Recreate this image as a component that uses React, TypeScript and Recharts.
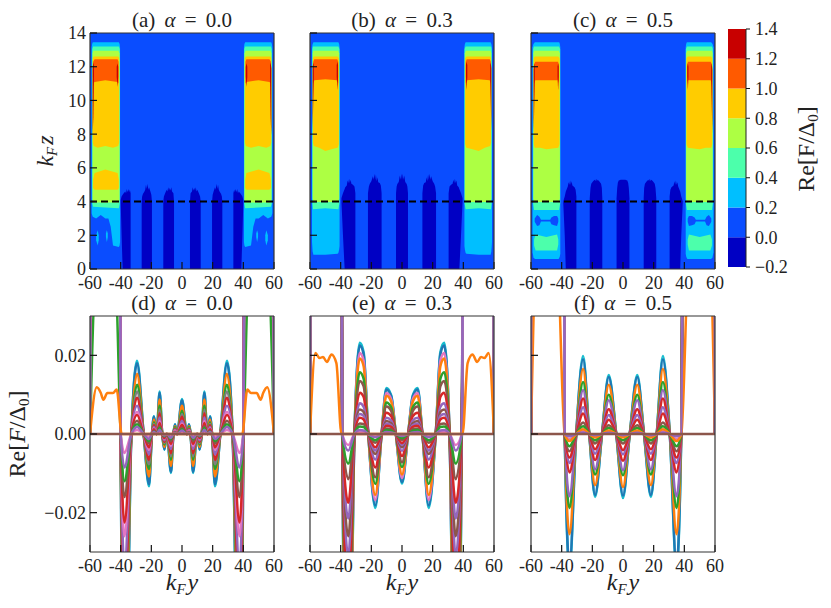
import React from 'react';
import { ComposedChart, Area, Line, XAxis, YAxis } from 'recharts';

const SERIF = '"Liberation Serif", serif';

// contourf levels, low to high
const LEVELS = [-0.2, 0, 0.2, 0.4, 0.6, 0.8, 1.0, 1.2, 1.4];
const LEVEL_COLORS = ['#0000c4', '#0a4dff', '#00bfff', '#4cffab', '#adff43', '#ffcc00', '#ff5a00', '#c80000'];
const TAB = { blue: '#1f77b4', orange: '#ff7f0e', green: '#2ca02c', red: '#d62728', purple: '#9467bd', brown: '#8c564b', pink: '#e377c2', gray: '#7f7f7f', olive: '#bcbd22', cyan: '#17becf' };

const yTicksX = [-60, -40, -20, 0, 20, 40, 60];
const zTicks = [0, 2, 4, 6, 8, 10, 12, 14];
const fTicks = [-0.02, 0, 0.02];
const barTicks = [-0.2, 0, 0.2, 0.4, 0.6, 0.8, 1.0, 1.2, 1.4];
const topTitles = ['(a) α = 0.0', '(b) α = 0.3', '(c) α = 0.5'];
const lowTitles = ['(d) α = 0.0', '(e) α = 0.3', '(f) α = 0.5'];
const cutZ = 4;

type Region = [number, number[], number[], number[]]; // level index, |y|, low z, high z

// (a) side block, read at |y| >= 40
const blockA: Region[] = [
  [2, [40.4, 40.7, 41.2, 45, 46.5, 48, 50, 53, 56, 58.2, 58.6, 58.9], [1.6, 1.4, 1.3, 1.4, 2.5, 3.0, 3.0, 3.2, 3.0, 3.1, 3.2, 3.3], [13.15, 13.35, 13.45, 13.45, 13.45, 13.45, 13.45, 13.45, 13.45, 13.45, 13.35, 13.15]],
  [2, [48.4, 49, 49.6], [1.9, 1.6, 1.9], [2.1, 2.3, 2.1]],
  [2, [54.3, 55, 56], [1.7, 1.4, 1.7], [2.0, 2.3, 2.0]],
  [3, [40.6, 41.2, 50, 58, 58.5], [3.9, 3.6, 3.65, 3.7, 3.9], [13.05, 13.2, 13.2, 13.2, 13.05]],
  [4, [40.8, 41.5, 50, 57.8, 58.3], [4.1, 3.95, 3.95, 3.95, 4.1], [12.8, 12.95, 12.95, 12.95, 12.8]],
  [5, [41, 41.6, 45, 50, 55, 57.6, 58.2], [7.5, 7.3, 7.2, 7.3, 7.2, 7.3, 7.5], [12.5, 12.6, 12.6, 12.6, 12.6, 12.6, 12.5]],
  [5, [41.2, 42, 50, 57, 58], [4.8, 4.7, 4.7, 4.7, 4.8], [5.3, 5.7, 5.9, 5.7, 5.3]],
  [6, [41.4, 42, 50, 57, 58], [11, 11.1, 11.2, 11.1, 11], [12.3, 12.45, 12.45, 12.45, 12.3]],
  [7, [57.4, 57.8, 58.3], [11.4, 9, 7.9], [12.1, 12.25, 11.9]],
  [7, [41.6, 42.1, 42.6], [11.4, 10.8, 11.4], [12.0, 12.2, 12.0]],
];

const blockB: Region[] = [
  [2, [40.7, 41, 41.5, 42, 50, 57.8, 58.3, 58.7], [1.4, 1.15, 0.95, 0.9, 0.85, 0.85, 1.05, 1.6], [13.15, 13.35, 13.45, 13.45, 13.45, 13.45, 13.35, 13.15]],
  [3, [40.8, 41.5, 50, 58, 58.4], [3.9, 3.55, 3.6, 3.55, 3.9], [13.05, 13.2, 13.2, 13.2, 13.05]],
  [4, [41, 41.7, 50, 57.8, 58.2], [4.2, 3.98, 3.98, 3.98, 4.2], [12.8, 12.95, 12.95, 12.95, 12.8]],
  [5, [41.2, 42, 46, 50, 54, 57.5, 58.1], [7.4, 7.2, 7.1, 7.0, 7.2, 7.3, 7.5], [12.5, 12.6, 12.6, 12.6, 12.6, 12.6, 12.5]],
  [6, [41.6, 42.2, 50, 57.2, 57.9], [11, 11.2, 11.25, 11.2, 11], [12.3, 12.45, 12.45, 12.45, 12.3]],
  [7, [57.5, 57.9, 58.3], [11.3, 9.8, 8.2], [12.1, 12.25, 11.9]],
  [7, [41.7, 42.1, 42.6], [11.4, 10.6, 11.4], [12.1, 12.3, 12.1]],
];

const blockC: Region[] = [
  [2, [40.9, 41.2, 41.6, 42, 50, 57.5, 58.4, 59], [0.9, 0.75, 0.65, 0.6, 0.6, 0.6, 0.7, 1.0], [13.15, 13.35, 13.45, 13.45, 13.45, 13.45, 13.35, 13.15]],
  [1, [42.2, 43, 45, 46.7, 47.5, 53.5, 54.5, 56, 57.6], [2.8, 2.55, 2.6, 2.65, 2.82, 2.82, 2.6, 2.55, 2.8], [3.0, 3.15, 3.15, 3.05, 2.92, 2.92, 3.1, 3.2, 3.0]],
  [3, [42.2, 43, 50, 57, 58], [1.45, 1.1, 1.1, 1.1, 1.4], [1.75, 2.05, 1.9, 2.05, 1.75]],
  [3, [41, 41.7, 50, 58, 58.6], [3.9, 3.5, 3.5, 3.5, 3.9], [13.05, 13.2, 13.2, 13.2, 13.05]],
  [4, [41.2, 41.9, 50, 57.9, 58.4], [4.2, 3.98, 3.98, 3.98, 4.2], [12.8, 12.95, 12.95, 12.95, 12.8]],
  [5, [41.4, 42.2, 46, 50, 54, 57.6, 58.2], [7.4, 7.2, 7.15, 7.1, 7.2, 7.2, 7.4], [12.5, 12.6, 12.6, 12.6, 12.6, 12.6, 12.5]],
  [6, [41.9, 42.4, 50, 57.2, 57.9], [11, 11.2, 11.2, 11.2, 11], [12.15, 12.3, 12.3, 12.3, 12.15]],
  [7, [57.5, 57.9, 58.3], [11.3, 9.6, 8.0], [12.0, 12.2, 11.8]],
  [7, [41.9, 42.3, 42.7], [11.4, 10.6, 11.4], [12.0, 12.2, 12.0]],
];

// dark stripes under the cut, read at y >= 0
const stripesA: Region[] = [
  [0, [5.2, 5.6, 6.5, 7, 7.5, 8, 8.5, 9, 9.5, 10, 11, 11.8, 12.2], [0, 0, 0, 0, 0, 0, 0, 0, 0, 0, 0, 0, 0], [4.0, 4.5, 4.6, 4.85, 4.65, 4.8, 4.65, 4.85, 4.6, 4.7, 4.5, 4.3, 4.0]],
  [0, [19.6, 20, 20.6, 21.5, 22, 22.5, 23, 23.5, 24, 24.5, 25.5, 26, 26.3], [0, 0, 0, 0, 0, 0, 0, 0, 0, 0, 0, 0, 0], [4.0, 4.4, 4.6, 4.85, 4.7, 5.05, 4.75, 5.0, 4.7, 4.6, 4.45, 4.3, 4.0]],
  [0, [33.5, 34, 34.5, 35, 35.5, 36, 36.5, 37, 38, 38.7, 39.4, 40], [0, 0, 0, 0, 0, 0, 0, 0, 0, 0, 2, 4], [4.5, 4.7, 4.55, 4.75, 4.55, 4.75, 4.5, 4.6, 4.5, 4.4, 4.3, 4.1]],
];
const stripesB: Region[] = [
  [0, [0, 0.5, 1, 1.5, 2, 2.5, 3, 3.5, 3.9], [0, 0, 0, 0, 0, 0, 0, 0, 0], [5.3, 5.65, 5.3, 5.55, 5.2, 5.1, 5.05, 4.9, 4.5]],
  [0, [13.3, 13.8, 14.5, 15.5, 16, 16.5, 17, 17.5, 18, 18.5, 19, 20, 21, 21.6, 22.2], [0, 0, 0, 0, 0, 0, 0, 0, 0, 0, 0, 0, 0, 0, 0], [4.5, 4.95, 5.1, 5.15, 5.45, 5.2, 5.6, 5.3, 5.65, 5.3, 5.5, 5.2, 5.05, 4.9, 4.5]],
  [0, [30.4, 31, 32, 33, 33.5, 34, 34.5, 35, 35.5, 36, 37, 37.4, 38.5, 39.5], [0, 0, 0, 0, 0, 0, 0, 0, 0, 0, 0, 0, 2, 4], [4.5, 4.9, 5.0, 5.05, 5.3, 5.1, 5.35, 5.1, 5.25, 4.95, 4.85, 4.75, 4.5, 4.2]],
];
const stripesC: Region[] = [
  [0, [0, 1.5, 2.8, 3.4, 3.8, 4.2], [0, 0, 0, 0, 0, 0], [5.3, 5.3, 5.25, 5.1, 4.8, 4.2]],
  [0, [13.5, 13.8, 14.3, 15.5, 16.5, 17, 17.5, 18, 18.5, 19.5, 20.7, 21.2, 21.7], [0, 0, 0, 0, 0, 0, 0, 0, 0, 0, 0, 0, 0], [4.2, 4.8, 5.05, 5.2, 5.3, 5.22, 5.35, 5.22, 5.3, 5.2, 5.05, 4.8, 4.2]],
  [0, [30.4, 30.9, 31.6, 33, 33.5, 34, 34.5, 35, 35.5, 36, 37.3, 38, 39], [0, 0, 0, 0, 0, 0, 0, 0, 0, 0, 0, 2, 4], [4.3, 4.7, 4.85, 4.95, 5.2, 5.0, 5.25, 5.0, 5.15, 4.9, 4.6, 4.3, 4.0]],
];
const blocks = [blockA, blockB, blockC];
const stripes = [stripesA, stripesB, stripesC];

// cuts: peak positions at y >= 0 and the common zeros between them
const peaksD = [0, 4.6, 7.2, 11.5, 14.6, 18.3, 21.5, 29.3, 37.5];
const zerosD = [3.2, 5.6, 9.8, 12.9, 16.5, 19.6, 25, 33, 40];
const peaksE = [0, 7, 10.2, 17.4, 25, 27.5, 35];
const zerosE = [4, 13.3, 22, 31, 39];
const peaksF = [0, 9.3, 18.2, 26, 34.9];
const zerosF = [4.4, 13.7, 22, 30.5, 38];

type Cut = [string, number, number[]]; // colour, value on the F side, values at the peaks

const cutsD: Cut[] = [
  ['cyan', 0.5, [0.0089, 0.0025, -0.0099, -0.0040, 0.0108, 0.0045, -0.0133, 0.0186, -0.088]],
  ['blue', 0.5, [0.0086, 0.0024, -0.0096, -0.0039, 0.0105, 0.0044, -0.0128, 0.0180, -0.085]],
  ['orange', 0.5, [0.0072, 0.0020, -0.0081, -0.0033, 0.0088, 0.0037, -0.0108, 0.0153, -0.072]],
  ['green', 0.5, [0.0059, 0.0017, -0.0066, -0.0027, 0.0072, 0.0030, -0.0089, 0.0125, -0.059]],
  ['gray', 0.5, [0.0051, 0.0014, -0.0057, -0.0023, 0.0062, 0.0026, -0.0077, 0.0108, -0.051]],
  ['red', 0.5, [0.0044, 0.0012, -0.0049, -0.0020, 0.0053, 0.0022, -0.0066, 0.0092, -0.043]],
  ['purple', 0.5, [0.0034, 0.0010, -0.0038, -0.0016, 0.0042, 0.0018, -0.0052, 0.0072, -0.034]],
  ['pink', 0.5, [0.0027, 0.0008, -0.0030, -0.0012, 0.0033, 0.0014, -0.0040, 0.0056, -0.026]],
  ['red', 0.5, [0.0023, 0.0006, -0.0025, -0.0010, 0.0028, 0.0012, -0.0034, 0.0048, -0.0225]],
  ['brown', 0.5, [0.0016, 0.0005, -0.0018, -0.0007, 0.0020, 0.0008, -0.0024, 0.0034, -0.016]],
  ['green', 0.04, [0.0012, 0.0003, -0.0013, -0.0005, 0.0015, 0.0006, -0.0018, 0.0025, -0.012]],
  ['pink', 0.5, [0.0005, 0.0002, -0.0005, -0.0002, 0.0006, 0.0002, -0.0007, 0.0010, -0.0048]],
  ['purple', 0.6, [0.0009, 0.0003, -0.0010, -0.0004, 0.0011, 0.0005, -0.0013, 0.0018, -0.0085]],
];
const cutsE: Cut[] = [
  ['cyan', 0.6, [-0.0126, 0.0098, 0.0117, -0.0188, 0.0208, 0.0232, -0.098]],
  ['blue', 0.6, [-0.0122, 0.0095, 0.0113, -0.0182, 0.0202, 0.0225, -0.094]],
  ['pink', 0.6, [-0.0112, 0.0088, 0.0104, -0.0168, 0.0186, 0.0206, -0.086]],
  ['orange', 0.6, [-0.0103, 0.0082, 0.0097, -0.0155, 0.0172, 0.0192, -0.078]],
  ['green', 0.6, [-0.0084, 0.0067, 0.0080, -0.0127, 0.0140, 0.0157, -0.064]],
  ['brown', 0.6, [-0.0072, 0.0058, 0.0070, -0.0110, 0.0121, 0.0135, -0.052]],
  ['red', 0.6, [-0.0056, 0.0045, 0.0054, -0.0085, 0.0094, 0.0105, -0.041]],
  ['purple', 0.6, [-0.0043, 0.0034, 0.0041, -0.0065, 0.0069, 0.0078, -0.031]],
  ['brown', 0.6, [-0.0034, 0.0027, 0.0033, -0.0051, 0.0056, 0.0062, -0.026]],
  ['purple', 0.6, [-0.0028, 0.0022, 0.0027, -0.0042, 0.0046, 0.0051, -0.0215]],
  ['red', 0.6, [-0.0023, 0.0018, 0.0021, -0.0034, 0.0037, 0.0041, -0.0175]],
  ['brown', 0.6, [-0.0015, 0.0012, 0.0014, -0.0022, 0.0025, 0.0027, -0.0115]],
  ['green', 0.6, [-0.0010, 0.0008, 0.0010, -0.0016, 0.0018, 0.0019, -0.0075]],
  ['pink', 0.6, [-0.0003, 0.0002, 0.0003, -0.0005, 0.0005, 0.0006, -0.0028]],
  ['purple', 0.7, [-0.0005, 0.0004, 0.0005, -0.0008, 0.0009, 0.0010, -0.0042]],
];
const cutsF: Cut[] = [
  ['cyan', 0.7, [-0.0163, 0.0150, -0.0160, 0.0198, -0.0345]],
  ['blue', 0.7, [-0.0157, 0.0145, -0.0155, 0.0190, -0.0332]],
  ['orange', 0.7, [-0.0135, 0.0125, -0.0130, 0.0165, -0.0255]],
  ['green', 0.7, [-0.0105, 0.0100, -0.0103, 0.0132, -0.0188]],
  ['purple', 0.7, [-0.0092, 0.0086, -0.0090, 0.0112, -0.0158]],
  ['red', 0.7, [-0.0068, 0.0063, -0.0066, 0.0090, -0.0098]],
  ['purple', 0.7, [-0.0052, 0.0048, -0.0050, 0.0068, -0.0074]],
  ['red', 0.7, [-0.0041, 0.0036, -0.0039, 0.0052, -0.0060]],
  ['brown', 0.7, [-0.0024, 0.0022, -0.0024, 0.0029, -0.0044]],
  ['green', 0.7, [-0.0016, 0.0015, -0.0016, 0.0020, -0.0031]],
  ['pink', 0.7, [-0.0006, 0.0006, -0.0006, 0.0008, -0.0013]],
  ['orange', 0.05, [-0.0009, 0.0009, -0.0009, 0.0012, -0.0018]],
  ['purple', 0.7, [-0.0003, 0.0003, -0.0003, 0.0004, -0.0006]],
];

// flat orange cut on the F side of (d) and (e)
const sideDx = [39.3, 42.6, 45, 48.7, 51.3, 53, 55.6, 60];
const sideDv = [0, 0.0113, 0.0104, 0.0104, 0.0087, 0.0105, 0.0119, 0];
const sideEx = [39.5, 42.8, 46, 49, 51.5, 53.7, 56.5, 60];
const sideEv = [0, 0.018, 0.0202, 0.0183, 0.0196, 0.0193, 0.0206, 0];

const peaks = [peaksD, peaksE, peaksF];
const zeros = [zerosD, zerosE, zerosF];
const cuts = [cutsD, cutsE, cutsF];
const sidesX = [sideDx, sideEx, null];
const sidesV = [sideDv, sideEv, null];
const edgeKnots = [43.5, 56, 60]; // where the off-scale F side starts, ends and drops to zero

// plot boxes in page pixels
const colLeft = [90, 310, 531];
const plotW = 184;
const plotH = 236;
const topRow = 33;
const lowRow = 316;
const PAD = { top: 30, right: 25, bottom: 60, left: 90 };
// each of the four axes takes one pixel out of the margin
const MARGIN = { top: PAD.top - 1, right: PAD.right - 1, bottom: PAD.bottom - 1, left: PAD.left - 1 };

const Mirror = (xs: number[], vs: number[]) => {
  const rows = xs.map((x, i) => ({ x, v: vs[i] }));
  return [...rows.slice().reverse().map((r) => ({ x: -r.x, v: r.v })), ...rows.filter((r) => r.x !== 0)];
};

const regionData = (xs: number[], lo: number[], hi: number[], sign: number) => {
  const rows = xs.map((x, i) => ({ x: sign * x, r: [lo[i], hi[i]] }));
  return sign < 0 ? rows.reverse() : rows;
};

const regionAreas = (rows: Region[], prefix: string) =>
  rows.flatMap(([level, xs, lo, hi], i) =>
    [-1, 1].map((sign) => (
      <Area
        key={`${prefix}${i}${sign}`}
        data={regionData(xs, lo, hi, sign)}
        dataKey="r"
        type="linear"
        stroke="none"
        fill={LEVEL_COLORS[level]}
        fillOpacity={1}
        dot={false}
        activeDot={false}
        isAnimationActive={false}
      />
    )),
  );

const frameAxes = (yTicks: number[], yDomain: number[], showY: boolean, fmt?: (v: number) => string) => {
  const common = { stroke: '#222', tickLine: { stroke: '#111', strokeWidth: 1.2 }, axisLine: { stroke: '#333', strokeWidth: 1.2 }, tick: { fontSize: 18, fill: '#222', fontFamily: SERIF } };
  const blank = () => '';
  return [
    <XAxis key="xb" xAxisId={0} type="number" dataKey="x" domain={[-60, 60]} ticks={yTicksX} interval={0} height={1} tickSize={-7} tickMargin={14} allowDataOverflow tickFormatter={String} {...common} />,
    <XAxis key="xt" xAxisId="top" orientation="top" type="number" domain={[-60, 60]} ticks={yTicksX} interval={0} height={1} tickSize={-7} tickFormatter={blank} {...common} />,
    <YAxis key="yl" yAxisId={0} type="number" domain={yDomain} ticks={yTicks} interval={0} width={1} tickSize={-7} tickMargin={11} allowDataOverflow tickFormatter={showY ? (fmt ?? String) : blank} {...common} />,
    <YAxis key="yr" yAxisId="right" orientation="right" type="number" domain={yDomain} ticks={yTicks} interval={0} width={1} tickSize={-7} tickFormatter={blank} {...common} />,
  ];
};

const Box = ({ left, top, children }: { left: number; top: number; children: React.ReactNode }) => (
  <div style={{ position: 'absolute', left: left - PAD.left, top: top - PAD.top }}>{children}</div>
);

const cx = PAD.left + plotW / 2;

const Title = ({ value }: { value: string }) => {
  const [head, rest] = value.split('α');
  return (
    <text x={cx} y={PAD.top - 6} textAnchor="middle" fontSize={21} fontFamily={SERIF} fill="#222" wordSpacing={4}>
      {head}
      <tspan fontStyle="italic">α</tspan>
      {rest}
    </text>
  );
};

const KF = ({ x, y, tail, rotate }: { x: number; y: number; tail: string; rotate?: boolean }) => (
  <text x={x} y={y} textAnchor="middle" fontSize={24} fontStyle="italic" fontFamily={SERIF} fill="#222" transform={rotate ? `rotate(-90 ${x} ${y})` : undefined}>
    k
    <tspan fontSize={15} dy={4}>F</tspan>
    <tspan dy={-4} dx={2}>{tail}</tspan>
  </text>
);

const ReLabel = ({ x, y, italicF }: { x: number; y: number; italicF: boolean }) => (
  <text x={x} y={y} textAnchor="middle" fontSize={24} fontFamily={SERIF} fill="#222" transform={`rotate(-90 ${x} ${y})`}>
    Re[
    <tspan fontStyle={italicF ? 'italic' : 'normal'}>F</tspan>
    /Δ
    <tspan fontSize={15} dy={4}>0</tspan>
    <tspan dy={-4}>]</tspan>
  </text>
);

const ContourPanel = ({ i }: { i: number }) => (
  <Box left={colLeft[i]} top={topRow}>
    <ComposedChart width={plotW + PAD.left + PAD.right} height={plotH + PAD.top + PAD.bottom} margin={MARGIN}>
      <Area data={regionData([-60, 60], [0, 0], [14, 14], 1)} dataKey="r" stroke="none" fill={LEVEL_COLORS[1]} fillOpacity={1} dot={false} activeDot={false} isAnimationActive={false} />
      {regionAreas(stripes[i], 's')}
      {regionAreas(blocks[i], 'b')}
      <Line data={[{ x: -60, v: cutZ }, { x: 60, v: cutZ }]} dataKey="v" stroke="#000" strokeWidth={2} strokeDasharray="7 4" dot={false} activeDot={false} isAnimationActive={false} />
      {frameAxes(zTicks, [0, 14], i === 0)}
      <Title value={topTitles[i]} />
      {i === 0 && <KF x={PAD.left - 37} y={PAD.top + 118} tail="z" rotate />}
    </ComposedChart>
  </Box>
);

const cutRows = (i: number, cut: Cut) => {
  const [, side, vals] = cut;
  const xs = [...peaks[i], ...zeros[i], ...edgeKnots];
  const vs = [...vals, ...zeros[i].map(() => 0), side, side, 0];
  const order = xs.map((x, k) => k).sort((a, b) => xs[a] - xs[b]);
  return Mirror(order.map((k) => xs[k]), order.map((k) => vs[k]));
};

const CutPanel = ({ i }: { i: number }) => {
  const sx = sidesX[i];
  const sv = sidesV[i];
  return (
    <Box left={colLeft[i]} top={lowRow}>
      <ComposedChart width={plotW + PAD.left + PAD.right} height={plotH + PAD.top + PAD.bottom} margin={MARGIN}>
        {cuts[i].map((cut, k) => (
          <Line key={k} data={cutRows(i, cut)} dataKey="v" type="monotone" stroke={TAB[cut[0] as keyof typeof TAB]} strokeWidth={2.5} dot={false} activeDot={false} isAnimationActive={false} />
        ))}
        {sx && sv && (
          <Line data={Mirror([0, ...sx], [0, ...sv])} dataKey="v" type="monotone" stroke={TAB.orange} strokeWidth={2.5} dot={false} activeDot={false} isAnimationActive={false} />
        )}
        <Line data={[{ x: -60, v: 0 }, { x: 60, v: 0 }]} dataKey="v" stroke={TAB.brown} strokeWidth={2.5} dot={false} activeDot={false} isAnimationActive={false} />
        {frameAxes(fTicks, [-0.03, 0.03], i === 0, (v) => v.toFixed(2).replace('-', '−'))}
        <Title value={lowTitles[i]} />
        <KF x={cx} y={PAD.top + plotH + 38} tail="y" />
        {i === 0 && <ReLabel x={PAD.left - 65} y={PAD.top + 118} italicF />}
      </ComposedChart>
    </Box>
  );
};

const ColorBar = () => (
  <div style={{ position: 'absolute', left: 728 - 10, top: 29 - 10 }}>
    <ComposedChart width={113} height={258} margin={{ top: 10, right: 84, bottom: 10, left: 10 }}>
      <XAxis type="number" dataKey="x" domain={[0, 1]} hide height={0} />
      {LEVEL_COLORS.map((c, k) => (
        <Area key={k} data={[{ x: 0, r: [LEVELS[k], LEVELS[k + 1]] }, { x: 1, r: [LEVELS[k], LEVELS[k + 1]] }]} dataKey="r" stroke="none" fill={c} fillOpacity={1} dot={false} activeDot={false} isAnimationActive={false} />
      ))}
      <YAxis orientation="right" type="number" domain={[-0.2, 1.4]} ticks={barTicks} interval={0} width={1} tickSize={4} tickMargin={5} allowDataOverflow tickFormatter={(v: number) => v.toFixed(1).replace('-', '−')} tick={{ fontSize: 18, fill: '#222', fontFamily: SERIF, textAnchor: 'start' }} tickLine={{ stroke: '#111' }} axisLine={{ stroke: '#222' }} />
      <ReLabel x={96} y={130} italicF={false} />
    </ComposedChart>
  </div>
);

export default function App() {
  return (
    <div style={{ position: 'absolute', left: 0, top: 0, width: 831, height: 608, background: '#fff', overflow: 'hidden', fontFamily: SERIF }}>
      {[0, 1, 2].map((i) => (
        <ContourPanel key={i} i={i} />
      ))}
      {[0, 1, 2].map((i) => (
        <CutPanel key={i} i={i} />
      ))}
      <ColorBar />
    </div>
  );
}
